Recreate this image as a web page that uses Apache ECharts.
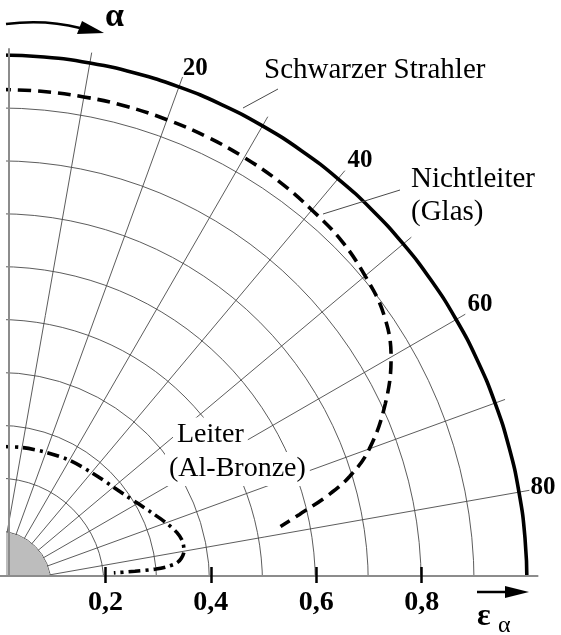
<!DOCTYPE html>
<html><head><meta charset="utf-8">
<script src="https://cdn.jsdelivr.net/npm/echarts@6/dist/echarts.min.js"></script>
<style>html,body{margin:0;padding:0;background:#fff}#c{width:561px;height:635px}</style>
</head><body><div id="c"></div>
<script>
// ---- data (alpha in degrees from the surface normal, emissivity eps_alpha) ----
const strahlerAlpha = [0,5,10,15,20,25,30,35,40,45,50,55,60,65,70,75,80,85,90];
const strahlerEps   = [1,1,1,1,1,1,1,1,1,1,1,1,1,1,1,1,1,1,1];
const glasAlpha = [0,5,10,15,20,25,30,35,40,45,50,55,60,65,70,73,75,77,78.5];
const glasEps   = [0.935,0.935,0.935,0.935,0.934,0.933,0.931,0.928,0.923,0.918,0.906,0.89,0.858,0.808,0.747,0.695,0.645,0.585,0.545];
const bronzeAlpha = [0,10,20,30,40,50,55,60,65,70,74,77,80,82,83.3,84.2,84.6,84.7,84.5];
const bronzeEps   = [0.26,0.262,0.265,0.27,0.275,0.285,0.293,0.305,0.32,0.338,0.352,0.358,0.357,0.35,0.34,0.32,0.30,0.26,0.22];
const angleTickValues = [20,40,60,80];
const angleTickLabels = ['20','40','60','80'];
const epsTickValues = [0.2,0.4,0.6,0.8];
const epsTickLabels = ['0,2','0,4','0,6','0,8'];
const seriesNames = ['Schwarzer Strahler','Nichtleiter (Glas)','Leiter (Al-Bronze)'];
const diskRadius = [0.099];

// ---- layout ----
const CX = -2, CY = 584, PX = 529;
const RMAX = 1.02;
const SERIF = "'Liberation Serif','DejaVu Serif',serif";
const GRID = '#4a4a4a';
const angleLabelPad = [[0,0,0,1],[0,0,3,4],[0,0,1,4],[0,0,7,3]];

const chart = echarts.init(document.getElementById('c'), null, {renderer:'canvas'});
const pairs = (a, e) => a.map((v, i) => [e[i], v]);
const ringColors = [];
for (let i = 0; i < 11; i++) ringColors.push(GRID);
ringColors.push('rgba(0,0,0,0)');
const angleRich = {};
angleLabelPad.forEach((p, i) => {
  angleRich['l' + i] = { fontFamily: SERIF, fontWeight: 'bold', fontSize: 25, color: '#000', lineHeight: 20, padding: p };
});

chart.setOption({
  animation: false,
  backgroundColor: '#fff',
  polar: { center: [CX, CY], radius: PX * RMAX },
  angleAxis: {
    type: 'value', min: 0, max: 90, interval: 10,
    startAngle: 90, endAngle: 0, clockwise: true,
    axisLine: { show: false }, axisTick: { show: false },
    splitLine: { show: true, lineStyle: { color: GRID, width: 0.9 } },
    axisLabel: {
      show: true, margin: -2, align: 'left', verticalAlign: 'bottom', lineHeight: 20,
      fontFamily: SERIF, fontWeight: 'bold', fontSize: 25, color: '#000', rich: angleRich,
      formatter: v => { const i = angleTickValues.indexOf(Math.round(v)); return i >= 0 ? '{l' + i + '|' + angleTickLabels[i] + '}' : ''; }
    }
  },
  radiusAxis: {
    type: 'value', min: 0, max: RMAX, interval: 0.1,
    axisLine: { show: false }, axisTick: { show: false }, axisLabel: { show: false },
    splitLine: { show: true, lineStyle: { color: ringColors, width: 0.9 } }
  },
  grid: { left: CX, right: 561 - (CX + PX * RMAX), top: 49, bottom: 635 - 576 },
  xAxis: [{
    type: 'value', min: 0, max: RMAX, position: 'bottom', z: 10,
    axisLine: { show: true, onZero: false, lineStyle: { color: '#8c8c8c', width: 2 } },
    axisTick: { show: true, inside: true, length: 9, customValues: epsTickValues, lineStyle: { color: '#000', width: 2.5 } },
    axisLabel: { show: true, customValues: epsTickValues, margin: 13, fontFamily: SERIF, fontWeight: 'bold', fontSize: 28, color: '#000',
      formatter: v => { const i = epsTickValues.findIndex(t => Math.abs(t - v) < 1e-6); return i >= 0 ? epsTickLabels[i] : ''; } },
    splitLine: { show: false }
  }, {
    type: 'value', min: 0, max: RMAX, position: 'bottom', offset: 0, z: 10,
    axisLine: { show: false },
    axisTick: { show: true, inside: false, length: 7, customValues: epsTickValues, lineStyle: { color: '#000', width: 2.5 } },
    axisLabel: { show: false }, splitLine: { show: false }
  }],
  yAxis: {
    type: 'value', min: 0, max: 1, position: 'left', offset: -9, z: 10,
    axisLine: { show: true, onZero: false, lineStyle: { color: '#8c8c8c', width: 2 } },
    axisTick: { show: false }, axisLabel: { show: false }, splitLine: { show: false }
  },
  series: [
    { type: 'scatter', coordinateSystem: 'polar', silent: true, z: 2,
      data: [[0, 0]], symbol: 'circle', symbolSize: 2 * diskRadius[0] * PX,
      itemStyle: { color: '#bdbdbd', opacity: 1 } },
    { name: seriesNames[0], type: 'line', coordinateSystem: 'polar', data: pairs(strahlerAlpha, strahlerEps),
      showSymbol: false, smooth: true, silent: true, z: 3,
      lineStyle: { color: '#000', width: 3.6 } },
    { name: seriesNames[1], type: 'line', coordinateSystem: 'polar', data: pairs(glasAlpha, glasEps),
      showSymbol: false, smooth: 0.4, silent: true, z: 3,
      lineStyle: { color: '#000', width: 3.6, type: [13, 7] } },
    { name: seriesNames[2], type: 'line', coordinateSystem: 'polar', data: pairs(bronzeAlpha, bronzeEps),
      showSymbol: false, smooth: 0.3, silent: true, z: 3,
      lineStyle: { color: '#000', width: 3.6, type: [12, 5, 3, 5] } }
  ],
  graphic: { elements: [
    { type: 'rect', z: 5, silent: true, shape: { x: 0, y: 577, width: 561, height: 60 }, style: { fill: '#fff' } },
    { type: 'rect', z: 5, silent: true, shape: { x: 0, y: 0, width: 6, height: 577 }, style: { fill: '#fff' } },
    // alpha arrow
    { type: 'bezierCurve', z: 6, silent: true, shape: { x1: 6, y1: 24, x2: 80, y2: 28, cpx1: 45, cpy1: 19 }, style: { stroke: '#000', lineWidth: 2.5, fill: null } },
    { type: 'polygon', z: 6, silent: true, shape: { points: [[82, 21], [104, 33], [77, 34]] }, style: { fill: '#000' } },
    { type: 'text', z: 6, silent: true, style: { text: 'α', x: 105, y: 34, font: "bold 34px " + SERIF, fill: '#000', textAlign: 'left', align: 'left', textVerticalAlign: 'bottom', verticalAlign: 'bottom' } },
    // eps arrow
    { type: 'polyline', z: 11, silent: true, shape: { points: [[477, 592], [508, 592]] }, style: { stroke: '#000', lineWidth: 2.5 } },
    { type: 'polygon', z: 11, silent: true, shape: { points: [[505, 586], [529, 592], [505, 598]] }, style: { fill: '#000' } },
    { type: 'text', z: 11, silent: true, style: { text: 'ε', x: 477, y: 633, font: "bold 32px " + SERIF, fill: '#000', textAlign: 'left', align: 'left', textVerticalAlign: 'bottom', verticalAlign: 'bottom' } },
    { type: 'text', z: 11, silent: true, style: { text: 'α', x: 498, y: 638, font: "24px " + SERIF, fill: '#000', textAlign: 'left', align: 'left', textVerticalAlign: 'bottom', verticalAlign: 'bottom' } },
    // annotations
    { type: 'line', z: 6, silent: true, shape: { x1: 243, y1: 108, x2: 278, y2: 89 }, style: { stroke: GRID, lineWidth: 1 } },
    { type: 'line', z: 6, silent: true, shape: { x1: 323, y1: 214, x2: 400, y2: 190 }, style: { stroke: GRID, lineWidth: 1 } },
    { type: 'text', z: 6, silent: true, style: { text: 'Schwarzer Strahler', x: 264, y: 70, font: "29px " + SERIF, fill: '#000', textAlign: 'left', align: 'left', textVerticalAlign: 'middle', verticalAlign: 'middle' } },
    { type: 'text', z: 6, silent: true, style: { text: 'Nichtleiter', x: 411, y: 179, font: "29px " + SERIF, fill: '#000', textAlign: 'left', align: 'left', textVerticalAlign: 'middle', verticalAlign: 'middle' } },
    { type: 'text', z: 6, silent: true, style: { text: '(Glas)', x: 411, y: 212, font: "29px " + SERIF, fill: '#000', textAlign: 'left', align: 'left', textVerticalAlign: 'middle', verticalAlign: 'middle' } },
    { type: 'text', z: 6, silent: true, style: { text: 'Leiter', x: 173, y: 435, font: "28px " + SERIF, fill: '#000', backgroundColor: '#fff', padding: [3, 4, 4, 4], textAlign: 'left', align: 'left', textVerticalAlign: 'middle', verticalAlign: 'middle' } },
    { type: 'text', z: 6, silent: true, style: { text: '(Al-Bronze)', x: 165, y: 469, font: "28px " + SERIF, fill: '#000', backgroundColor: '#fff', padding: [3, 4, 3, 4], textAlign: 'left', align: 'left', textVerticalAlign: 'middle', verticalAlign: 'middle' } }
  ] }
});
</script></body></html>
